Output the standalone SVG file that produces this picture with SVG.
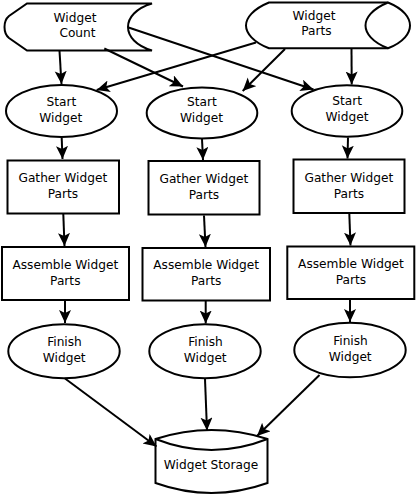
<svg xmlns="http://www.w3.org/2000/svg" width="416" height="495" viewBox="0 0 416 495">
<defs>
<style>
.s{fill:#fff;stroke:#000;stroke-width:2}
.t{font-family:"DejaVu Sans",sans-serif;font-size:12.2px;fill:#000;text-anchor:middle}
.c line{stroke:#000;stroke-width:2;marker-end:url(#ah)}
</style>
<marker id="ah" markerUnits="userSpaceOnUse" markerWidth="15" markerHeight="14" refX="13" refY="6" orient="auto" viewBox="0 0 15 14">
<path d="M0,0 L13,6 L0,12 L3,6 Z" fill="#000"/>
</marker>
</defs>
<rect width="416" height="495" fill="#fff"/>
<g id="widget-count">
<path class="s" d="M27,3.5 L152,3.5 C120,13 120,41 152,50.5 L27,50.5 L9,38 C3,33 3,21 9,16 Z"/>
<text class="t" x="75" y="21.5">Widget</text>
<text class="t" x="77.5" y="37">Count</text>
</g>
<g id="widget-parts">
<path class="s" d="M269,2.5 L388,2.5 C404,9 410,18 410,25.5 C410,33 404,42 388,48.3 L269,48.3 C253,42 246,33 246,25.5 C246,18 253,9 269,2.5 Z"/>
<path class="s" fill="none" d="M388,2.5 C372,9 365.5,18 365.5,25.5 C365.5,33 372,42 388,48.3"/>
<text class="t" x="314" y="19.5">Widget</text>
<text class="t" x="316.5" y="35">Parts</text>
</g>
<g id="start1">
<ellipse class="s" cx="61.5" cy="111" rx="55.5" ry="26"/>
<text class="t" x="61.3" y="105.7">Start</text>
<text class="t" x="60.8" y="121.7">Widget</text>
</g>
<g id="start2">
<ellipse class="s" cx="202" cy="113" rx="55.3" ry="25.5"/>
<text class="t" x="202" y="106">Start</text>
<text class="t" x="201.5" y="122.3">Widget</text>
</g>
<g id="start3">
<ellipse class="s" cx="347" cy="111" rx="55.3" ry="25.7"/>
<text class="t" x="347.2" y="105">Start</text>
<text class="t" x="347" y="121">Widget</text>
</g>
<g id="gather1">
<rect class="s" x="7.5" y="160.5" width="111.5" height="53"/>
<text class="t" x="62.8" y="182.3">Gather Widget</text>
<text class="t" x="63" y="197.7">Parts</text>
</g>
<g id="gather2">
<rect class="s" x="148.5" y="161" width="111" height="53.5"/>
<text class="t" x="203.8" y="183.3">Gather Widget</text>
<text class="t" x="204" y="198.7">Parts</text>
</g>
<g id="gather3">
<rect class="s" x="293.5" y="159.5" width="111" height="53.5"/>
<text class="t" x="348.8" y="182.3">Gather Widget</text>
<text class="t" x="349" y="197.7">Parts</text>
</g>
<g id="assemble1">
<rect class="s" x="2" y="247" width="127" height="53"/>
<text class="t" x="65.3" y="268.7">Assemble Widget</text>
<text class="t" x="65.3" y="285">Parts</text>
</g>
<g id="assemble2">
<rect class="s" x="142.5" y="248" width="127.5" height="52.5"/>
<text class="t" x="206.2" y="269.3">Assemble Widget</text>
<text class="t" x="206.2" y="285.3">Parts</text>
</g>
<g id="assemble3">
<rect class="s" x="287.3" y="246.5" width="127" height="52.5"/>
<text class="t" x="351" y="267.7">Assemble Widget</text>
<text class="t" x="351" y="284">Parts</text>
</g>
<g id="finish1">
<ellipse class="s" cx="64" cy="351.3" rx="55.7" ry="27"/>
<text class="t" x="64.5" y="346">Finish</text>
<text class="t" x="64.2" y="361.7">Widget</text>
</g>
<g id="finish2">
<ellipse class="s" cx="205" cy="351.3" rx="55.7" ry="27"/>
<text class="t" x="205.5" y="346">Finish</text>
<text class="t" x="205.2" y="361.7">Widget</text>
</g>
<g id="finish3">
<ellipse class="s" cx="350" cy="350" rx="55.7" ry="27.3"/>
<text class="t" x="350.5" y="345">Finish</text>
<text class="t" x="350.2" y="360.7">Widget</text>
</g>
<g id="widget-storage">
<path class="s" d="M155.5,439 Q211.5,421 267.5,439 L267.5,483 Q211.5,503 155.5,483 Z"/>
<path class="s" fill="none" d="M155.5,439 Q211.5,461 267.5,439"/>
<text class="t" x="211" y="469.3">Widget Storage</text>
</g>
<g id="connectors" class="c">
<line x1="59.5" y1="51" x2="61.5" y2="84"/>
<line x1="104.3" y1="48.5" x2="183" y2="86.5"/>
<line x1="128.5" y1="27.5" x2="313.5" y2="89.5"/>
<line x1="256" y1="42.5" x2="96.7" y2="90"/>
<line x1="285" y1="49" x2="242.7" y2="91"/>
<line x1="351.5" y1="49" x2="351.7" y2="84.5"/>
<line x1="61.7" y1="138" x2="62.5" y2="159"/>
<line x1="202" y1="139" x2="203" y2="160"/>
<line x1="348" y1="137.5" x2="347.5" y2="158.5"/>
<line x1="63.3" y1="214" x2="64.5" y2="246"/>
<line x1="204" y1="215.5" x2="205.5" y2="247"/>
<line x1="349.3" y1="213.5" x2="350.5" y2="245.5"/>
<line x1="65" y1="300.5" x2="65" y2="323"/>
<line x1="205.7" y1="301" x2="205.7" y2="323.5"/>
<line x1="350" y1="300" x2="350" y2="322"/>
<line x1="65" y1="378.5" x2="156.5" y2="446.5"/>
<line x1="205" y1="379" x2="207" y2="430.5"/>
<line x1="319.5" y1="375" x2="257" y2="436"/>
</g>
</svg>
